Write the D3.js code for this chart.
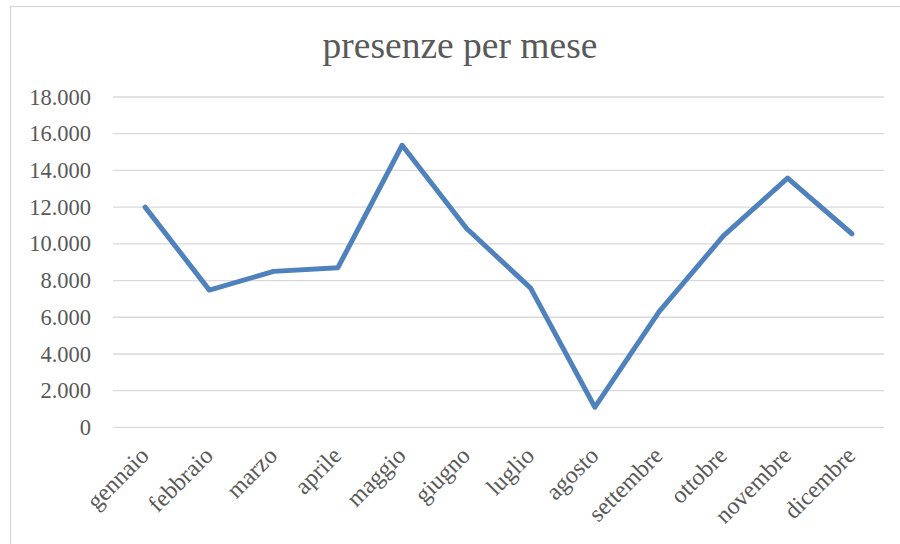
<!DOCTYPE html>
<html>

<head>
    <style type="text/css">
    html,
    body {
        margin: 0px;
        padding: 0px;
        background: #fff;
    }

    text {
        font-family: 'Liberation Serif', serif;
        fill: #595959;
    }

    .grid line {
        stroke: #d9d9d9;
        stroke-width: 1.3px;
    }

    .serie {
        fill: none;
        stroke: #4f81bd;
        stroke-width: 5px;
        stroke-linejoin: round;
        stroke-linecap: round;
    }
    </style>
    <script src="https://d3js.org/d3.v7.min.js"></script>
    <title>presenze per mese</title>
</head>

<body>
</body>
<script type="text/javascript">
// dati
var mesi = ["gennaio", "febbraio", "marzo", "aprile", "maggio", "giugno",
    "luglio", "agosto", "settembre", "ottobre", "novembre", "dicembre"];
var presenze = [12000, 7480, 8500, 8700, 15370, 10850,
    7590, 1100, 6310, 10430, 13580, 10550];
var yTicks = [0, 2000, 4000, 6000, 8000, 10000, 12000, 14000, 16000, 18000];

var width = 900;
var height = 544;

// numeri all'italiana: 18.000
var it = d3.formatLocale({
    decimal: ",",
    thousands: ".",
    grouping: [3],
    currency: ["", " €"]
});
var fmt = it.format(",d");

var svg = d3.select("body")
    .append("svg")
    .attr("width", width)
    .attr("height", height);

// cornice del grafico
svg.append("rect")
    .attr("x", 10.5)
    .attr("y", 6.5)
    .attr("width", 1000)
    .attr("height", 700)
    .attr("fill", "#fff")
    .attr("stroke", "#d9d9d9")
    .attr("stroke-width", 1.3);

var x = d3.scaleBand()
    .domain(mesi)
    .range([113, 884]);

var y = d3.scaleLinear()
    .domain([0, 18000])
    .range([427.4, 97]);

// titolo
svg.append("text")
    .attr("x", 460)
    .attr("y", 58)
    .attr("text-anchor", "middle")
    .style("font-size", "37.5px")
    .text("presenze per mese");

// griglia orizzontale
svg.append("g")
    .attr("class", "grid")
    .selectAll("line")
    .data(yTicks)
    .enter().append("line")
    .attr("x1", x.range()[0])
    .attr("x2", x.range()[1])
    .attr("y1", function(d) { return y(d); })
    .attr("y2", function(d) { return y(d); });

// etichette asse y
svg.append("g")
    .selectAll("text")
    .data(yTicks)
    .enter().append("text")
    .attr("x", 91)
    .attr("y", function(d) { return y(d); })
    .attr("dy", "0.34em")
    .attr("text-anchor", "end")
    .style("font-size", "22.5px")
    .text(function(d) { return fmt(d); });

// etichette asse x, ruotate
svg.append("g")
    .selectAll("text")
    .data(mesi)
    .enter().append("text")
    .attr("transform", function(d) {
        return "translate(" + (x(d) + x.bandwidth() / 2 + 5) + ",457) rotate(-45)";
    })
    .attr("text-anchor", "end")
    .style("font-size", "24px")
    .text(function(d) { return d; });

// la linea
var line = d3.line()
    .x(function(d, i) { return x(mesi[i]) + x.bandwidth() / 2; })
    .y(function(d) { return y(d); });

svg.append("path")
    .datum(presenze)
    .attr("class", "serie")
    .attr("d", line);
</script>

</html>
